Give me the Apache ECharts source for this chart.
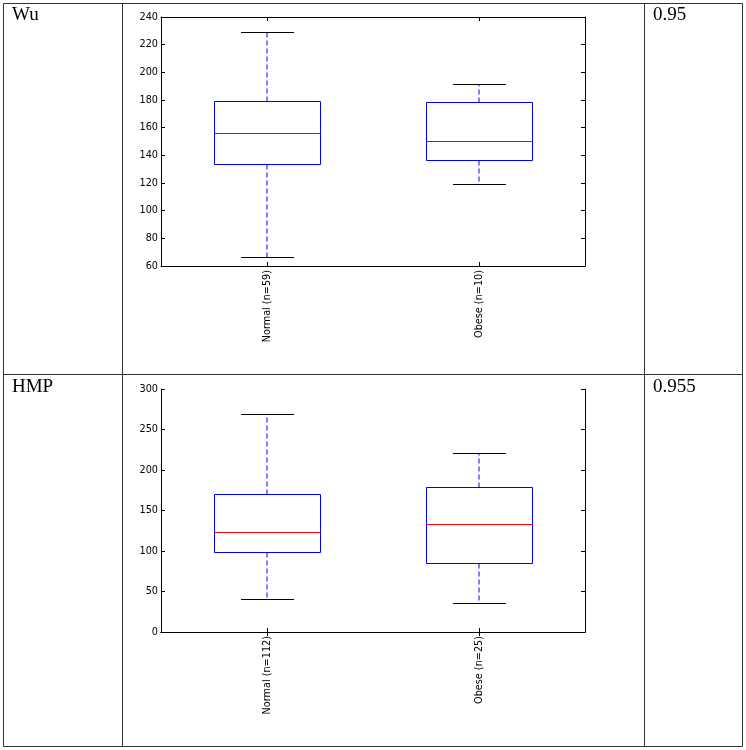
<!DOCTYPE html>
<html>
<head>
<meta charset="utf-8">
<script src="https://cdn.jsdelivr.net/npm/echarts@6/dist/echarts.min.js"></script>
<style>
html,body{margin:0;padding:0;background:#fff;}
#c{width:746px;height:750px;}
</style>
</head>
<body>
<div id="c"></div>
<script>
// ---- data ----
const rowLabels = ['Wu', 'HMP'];
const rowScores = ['0.95', '0.955'];

const wuCategories = ['Normal (n=59)', 'Obese (n=10)'];
const wuLow = [66, 119];
const wuQ1 = [133.5, 136];
const wuMedian = [156, 150];
const wuQ3 = [179, 178.5];
const wuHigh = [229, 191];
const wuTicks = [60, 80, 100, 120, 140, 160, 180, 200, 220, 240];

const hmpCategories = ['Normal (n=112)', 'Obese (n=25)'];
const hmpLow = [40, 35];
const hmpQ1 = [98, 84];
const hmpMedian = [123, 132.5];
const hmpQ3 = [170, 179];
const hmpHigh = [269, 220];
const hmpTicks = [0, 50, 100, 150, 200, 250, 300];

// ---- build ----
function buildData(low, q1, med, q3, high) {
  return low.map((v, i) => [i, v, q1[i], med[i], q3[i], high[i]]);
}
function crisp(v) { return Math.round(v - 0.5) + 0.5; }

function renderBox(params, api) {
  const i = api.value(0);
  const pLow = api.coord([i, api.value(1)]);
  const pQ1 = api.coord([i, api.value(2)]);
  const pMed = api.coord([i, api.value(3)]);
  const pQ3 = api.coord([i, api.value(4)]);
  const pHigh = api.coord([i, api.value(5)]);
  const band = api.size([1, 0])[0];
  const hw = band * 0.25;
  const cw = band * 0.125;
  const xc = crisp(pLow[0]);
  const xw = Math.round(pLow[0]);
  const yl = crisp(pLow[1]), y1 = crisp(pQ1[1]), ym = crisp(pMed[1]), y3 = crisp(pQ3[1]), yh = crisp(pHigh[1]);
  const xl = crisp(xc - hw), xr = crisp(xc + hw);
  const blue = 'rgb(0,0,255)';
  return {
    type: 'group',
    children: [
      {type: 'polyline', shape: {points: [[xw, y3], [xw, yh]]}, style: {stroke: blue, fill: null, lineWidth: 1, lineDash: [5, 3]}},
      {type: 'polyline', shape: {points: [[xw, y1], [xw, yl]]}, style: {stroke: blue, fill: null, lineWidth: 1, lineDash: [5, 3]}},
      {type: 'line', shape: {x1: xc - cw, y1: yh, x2: xc + cw, y2: yh}, style: {stroke: '#000', lineWidth: 1}},
      {type: 'line', shape: {x1: xc - cw, y1: yl, x2: xc + cw, y2: yl}, style: {stroke: '#000', lineWidth: 1}},
      {type: 'rect', shape: {x: xl, y: y3, width: xr - xl, height: y1 - y3}, style: {stroke: blue, fill: 'transparent', lineWidth: 1}},
      {type: 'line', shape: {x1: xl, y1: ym, x2: xr, y2: ym}, style: {stroke: '#ff0000', lineWidth: 1}}
    ]
  };
}

const axisLine = {show: true, lineStyle: {color: '#000', width: 1}};
const tick = {show: true, inside: true, length: 4, lineStyle: {color: '#000', width: 1}};
const labelFont = {fontFamily: 'DejaVu Sans', fontSize: 9.7, color: '#000'};

function xAxes(gridIndex, cats) {
  return [
    {gridIndex, type: 'category', data: cats, position: 'bottom',
     axisLine, axisTick: Object.assign({alignWithLabel: true}, tick),
     axisLabel: Object.assign({rotate: 90, margin: 4, interval: 0}, labelFont),
     splitLine: {show: false}},
    {gridIndex, type: 'category', data: cats, position: 'top',
     axisLine, axisTick: Object.assign({alignWithLabel: true}, tick),
     axisLabel: {show: false}, splitLine: {show: false}}
  ];
}
function yAxes(gridIndex, ticks) {
  const min = ticks[0], max = ticks[ticks.length - 1], interval = ticks[1] - ticks[0];
  return [
    {gridIndex, type: 'value', min, max, interval, position: 'left',
     axisLine, axisTick: tick,
     axisLabel: Object.assign({margin: 3}, labelFont), splitLine: {show: false}},
    {gridIndex, type: 'value', min, max, interval, position: 'right',
     axisLine, axisTick: tick, axisLabel: {show: false}, splitLine: {show: false}}
  ];
}

// table graphics
const tableStroke = {stroke: '#333', lineWidth: 1};
const tableLines = [
  [3.5, 3.5, 742.5, 3.5],
  [3.5, 746.5, 742.5, 746.5],
  [3.5, 374.5, 742.5, 374.5],
  [3.5, 3.5, 3.5, 746.5],
  [742.5, 3.5, 742.5, 746.5],
  [122.5, 3.5, 122.5, 746.5],
  [644.5, 3.5, 644.5, 746.5]
].map(l => ({type: 'line', shape: {x1: l[0], y1: l[1], x2: l[2], y2: l[3]}, style: tableStroke, silent: true}));

const rowBaselines = [22, 394];
const serif = {fontFamily: 'Liberation Serif', fontSize: 19, fill: '#000'};
const tableTexts = [];
rowLabels.forEach((t, i) => {
  tableTexts.push({type: 'text', x: 12, y: rowBaselines[i] - 6.6,
    style: Object.assign({text: t, verticalAlign: 'middle', align: 'left'}, serif)});
});
rowScores.forEach((t, i) => {
  tableTexts.push({type: 'text', x: 653, y: rowBaselines[i] - 6.6,
    style: Object.assign({text: t, verticalAlign: 'middle', align: 'left'}, serif)});
});

const chart = echarts.init(document.getElementById('c'), null, {renderer: 'canvas'});
chart.setOption({
  animation: false,
  backgroundColor: '#fff',
  grid: [
    {left: 161, top: 17, width: 424, height: 249, containLabel: false, outerBoundsMode: 'none'},
    {left: 161, top: 389, width: 424, height: 243, containLabel: false, outerBoundsMode: 'none'}
  ],
  xAxis: [].concat(xAxes(0, wuCategories), xAxes(1, hmpCategories)),
  yAxis: [].concat(yAxes(0, wuTicks), yAxes(1, hmpTicks)),
  graphic: tableLines.concat(tableTexts),
  series: [
    {type: 'custom', xAxisIndex: 0, yAxisIndex: 0, renderItem: renderBox,
     encode: {x: 0, y: [1, 2, 3, 4, 5]},
     data: buildData(wuLow, wuQ1, wuMedian, wuQ3, wuHigh)},
    {type: 'custom', xAxisIndex: 2, yAxisIndex: 2, renderItem: renderBox,
     encode: {x: 0, y: [1, 2, 3, 4, 5]},
     data: buildData(hmpLow, hmpQ1, hmpMedian, hmpQ3, hmpHigh)}
  ]
});
</script>
</body>
</html>
